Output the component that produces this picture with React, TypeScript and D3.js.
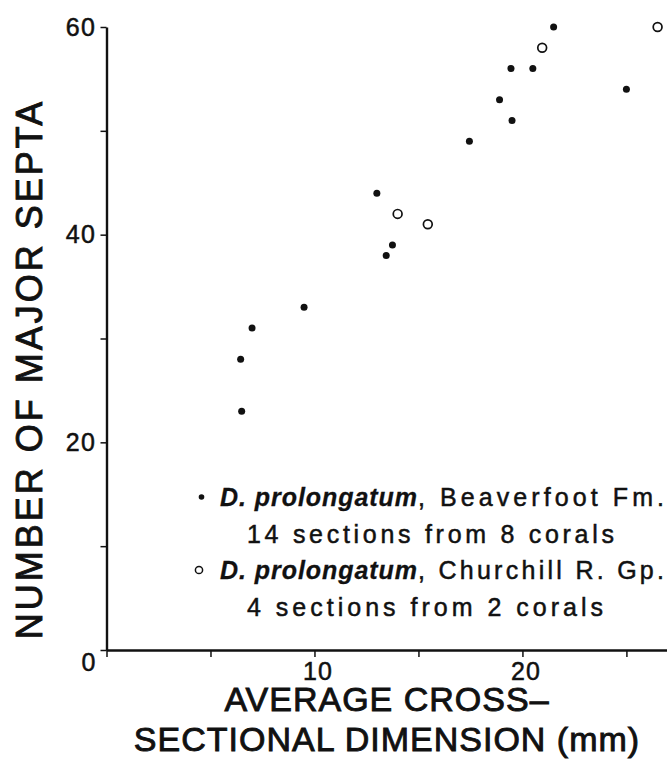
import React, { useEffect, useRef } from "react";
import * as d3 from "d3";

// Beaverfoot Fm. sections (filled dots)
const beaverfootSize = [6.45, 6.5, 7.0, 9.5, 13.0, 13.45, 13.75, 17.45, 18.9, 19.5, 19.45, 20.5, 21.5, 25.0];
const beaverfootSepta = [28, 23, 31, 33, 44, 38, 39, 49, 53, 51, 56, 56, 60, 54];

// Churchill R. Gp. sections (open circles)
const churchillSize = [14.0, 15.45, 20.95, 26.5];
const churchillSepta = [42, 41, 58, 60];

const xTicks = [0, 5, 10, 15, 20, 25];
const xTickLabels = ["", "", "10", "", "20", ""];
const yTicks = [0, 10, 20, 30, 40, 50, 60];
const yTickLabels = ["", "", "20", "", "40", "", "60"];
const originLabel = "0";

const legendSpecies = ["D. prolongatum", "D. prolongatum"];
const legendUnits = [", Beaverfoot Fm.", ", Churchill R. Gp."];
const legendCounts = ["14 sections from 8 corals", "4 sections from 2 corals"];

const xTitle = ["AVERAGE CROSS\u2013", "SECTIONAL DIMENSION (mm)"];
const yTitle = "NUMBER OF MAJOR SEPTA";

const FONT = "'Liberation Sans', Arial, Helvetica, sans-serif";
const INK = "#111";

export default function App() {
  const svgRef = useRef<SVGSVGElement>(null);

  useEffect(() => {
    document.body.style.margin = "0";
    const svg = d3.select(svgRef.current);
    svg.selectAll("*").remove();

    const width = 667;
    const height = 770;

    const x = d3.scaleLinear().domain([0, 27]).range([106.5, 668]);
    const y = d3.scaleLinear().domain([0, 60]).range([650, 27]);

    svg.attr("width", width).attr("height", height);

    // scanned Helvetica looks heavy, so thicken glyphs a little
    const ink = (sel: any, weight: number) =>
      sel.attr("fill", INK).attr("stroke", INK).attr("stroke-width", weight).style("font-family", FONT);

    // x axis
    const xAxis = d3.axisBottom(x)
      .tickValues(xTicks)
      .tickSize(7)
      .tickSizeOuter(0)
      .tickPadding(5)
      .tickFormat((_, i) => xTickLabels[i]);

    const gx = svg.append("g")
      .attr("transform", `translate(0,${y(0)})`)
      .call(xAxis);
    gx.select(".domain").attr("stroke", INK).attr("stroke-width", 2.4);
    gx.selectAll(".tick line").attr("stroke", INK).attr("stroke-width", 1.5);
    ink(gx.selectAll(".tick text"), 0.5)
      .attr("dx", 3)
      .style("font-size", "25px")
      .style("letter-spacing", "1px");

    // y axis
    const yAxis = d3.axisLeft(y)
      .tickValues(yTicks)
      .tickSize(6)
      .tickSizeOuter(0)
      .tickPadding(4)
      .tickFormat((_, i) => yTickLabels[i]);

    const gy = svg.append("g")
      .attr("transform", `translate(${x(0)},0)`)
      .call(yAxis);
    gy.select(".domain").attr("stroke", INK).attr("stroke-width", 2.4);
    gy.selectAll(".tick line").attr("stroke", INK).attr("stroke-width", 1.5);
    ink(gy.selectAll(".tick text"), 0.5)
      .style("font-size", "25px")
      .style("letter-spacing", "1.5px");

    // shared origin label
    ink(svg.append("text"), 0.5)
      .attr("x", x(0) - 18)
      .attr("y", y(0) + 21)
      .attr("text-anchor", "middle")
      .style("font-size", "25px")
      .text(originLabel);

    // data
    svg.append("g")
      .selectAll("circle")
      .data(beaverfootSize)
      .join("circle")
      .attr("cx", (d) => x(d))
      .attr("cy", (_, i) => y(beaverfootSepta[i]))
      .attr("r", 3.5)
      .attr("fill", INK);

    svg.append("g")
      .selectAll("circle")
      .data(churchillSize)
      .join("circle")
      .attr("cx", (d) => x(d))
      .attr("cy", (_, i) => y(churchillSepta[i]))
      .attr("r", 4.4)
      .attr("fill", "white")
      .attr("stroke", INK)
      .attr("stroke-width", 1.7);

    // axis titles
    const xt = ink(svg.append("text"), 0.9)
      .attr("text-anchor", "middle")
      .style("font-size", "34px")
      .style("letter-spacing", "1px");
    xTitle.forEach((line, i) => {
      xt.append("tspan").attr("x", 387).attr("y", 711 + i * 40).text(line);
    });

    ink(svg.append("text"), 0.9)
      .attr("transform", "translate(42,369) rotate(-90)")
      .attr("text-anchor", "middle")
      .style("font-size", "36px")
      .style("letter-spacing", "3px")
      .text(yTitle);

    // legend
    const legend = svg.append("g");
    legendSpecies.forEach((sp, i) => {
      const base = 506 + i * 73;
      if (i === 0) {
        legend.append("circle").attr("cx", 201.5).attr("cy", base - 9).attr("r", 2.8).attr("fill", INK);
      } else {
        legend.append("circle").attr("cx", 199).attr("cy", base - 9).attr("r", 3.6)
          .attr("fill", "white").attr("stroke", INK).attr("stroke-width", 1.5);
      }
      ink(legend.append("text"), 0.3)
        .attr("x", 220)
        .attr("y", base)
        .attr("textLength", 197)
        .attr("lengthAdjust", "spacing")
        .style("font-size", "25px")
        .style("font-weight", "bold")
        .style("font-style", "italic")
        .text(sp);
      ink(legend.append("text"), 0.5)
        .attr("x", 418)
        .attr("y", base)
        .attr("textLength", 246)
        .attr("lengthAdjust", "spacing")
        .style("font-size", "25px")
        .text(legendUnits[i]);

      ink(legend.append("text"), 0.5)
        .attr("x", 247)
        .attr("y", base + 37)
        .attr("textLength", i === 0 ? 367 : 356)
        .attr("lengthAdjust", "spacing")
        .style("font-size", "25px")
        .text(legendCounts[i]);
    });
  }, []);

  return (
    <div style={{ background: "white" }}>
      <svg ref={svgRef} width="667" height="770" style={{ display: "block" }}></svg>
    </div>
  );
}
